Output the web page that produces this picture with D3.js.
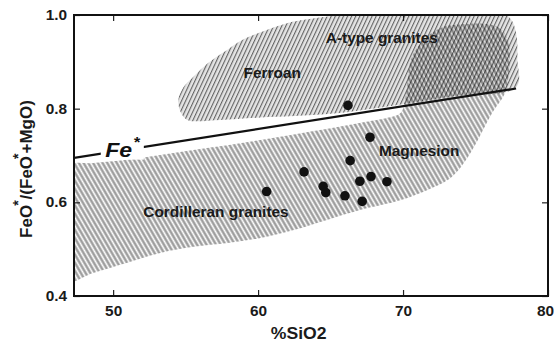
<!DOCTYPE html>
<html>
<head>
<meta charset="utf-8">
<script src="https://cdn.jsdelivr.net/npm/d3@7"></script>
<style>
  html, body { margin: 0; padding: 0; background: #fff; }
  svg { display: block; font-family: "Liberation Sans", Arial, sans-serif; }
</style>
</head>
<body>
<svg id="chart" width="554" height="344"></svg>
<script>
// Axis ticks
const xTicks = [50, 60, 70, 80];
const yTicks = [0.4, 0.6, 0.8, 1.0];

// Samples: SiO2 (wt%) and FeO*/(FeO*+MgO)
const sampleSiO2 = [66.2, 67.72, 66.35, 63.17, 60.59, 64.49, 64.67, 67.02, 67.79, 68.89, 65.99, 67.18];
const sampleFeNumber = [0.807, 0.739, 0.689, 0.665, 0.623, 0.634, 0.621, 0.645, 0.655, 0.644, 0.614, 0.602];

// Fe* boundary between ferroan and magnesian fields
const feBoundarySiO2 = [47.3, 77.8];
const feBoundaryValue = [0.695, 0.843];

// Ferroan field (A-type granites) outline
const ferroanSiO2 = [55.12, 54.64, 54.50, 54.84, 55.54, 56.57, 57.89, 59.00, 60.17, 62.46, 64.81, 66.40, 76.78, 77.47, 77.82, 77.89, 77.82, 73.32, 69.86, 65.02, 60.17, 57.4];
const ferroanValue = [0.776, 0.794, 0.819, 0.845, 0.868, 0.898, 0.926, 0.948, 0.963, 0.986, 0.997, 1.005, 1.005, 0.99, 0.958, 0.905, 0.846, 0.826, 0.809, 0.789, 0.781, 0.776];

// Magnesian field (Cordilleran granites) outline
const cordilleranSiO2 = [46.8, 48.62, 50.97, 53.25, 55.54, 57.89, 60.17, 62.46, 64.81, 67.09, 69.0, 69.86, 70.21, 70.55, 71.45, 72.63, 74.01, 75.88, 76.78, 77.27, 77.27, 76.99, 76.30, 75.88, 74.91, 74.01, 73.11, 71.73, 69.86, 67.09, 64.81, 62.46, 60.17, 57.89, 55.54, 53.25, 50.97, 48.62, 46.8];
const cordilleranValue = [0.676, 0.684, 0.691, 0.701, 0.712, 0.722, 0.733, 0.745, 0.757, 0.77, 0.781, 0.792, 0.83, 0.905, 0.948, 0.973, 0.98, 0.98, 0.969, 0.941, 0.868, 0.83, 0.798, 0.776, 0.719, 0.676, 0.648, 0.627, 0.605, 0.584, 0.563, 0.541, 0.524, 0.513, 0.505, 0.492, 0.471, 0.449, 0.432];

const W = 554, H = 344;
const margin = { left: 74, top: 15, right: 6, bottom: 48 };
const plotW = W - margin.left - margin.right;
const plotH = H - margin.top - margin.bottom;
const STRETCH = 1.1;

const svg = d3.select("#chart");
const defs = svg.append("defs");

defs.append("clipPath").attr("id", "plotClip")
  .append("rect").attr("width", plotW).attr("height", plotH);

// Hatch for the ferroan field: dark "/" lines on light grey
const pFe = defs.append("pattern").attr("id", "hatchFe")
  .attr("patternUnits", "userSpaceOnUse").attr("width", 3.7).attr("height", 10)
  .attr("patternTransform", "rotate(25)");
pFe.append("rect").attr("width", 3.7).attr("height", 10).attr("fill", "#e4e4e4");
pFe.append("line").attr("x1", 0.6).attr("x2", 0.6).attr("y1", 0).attr("y2", 10)
  .attr("stroke", "#555").attr("stroke-width", 1);

// Hatch for the magnesian field: white "\" lines on mid grey
const pMg = defs.append("pattern").attr("id", "hatchMg")
  .attr("patternUnits", "userSpaceOnUse").attr("width", 4.1).attr("height", 10)
  .attr("patternTransform", "rotate(-30)");
pMg.append("rect").attr("width", 4.1).attr("height", 10).attr("fill", "#9e9e9e");
pMg.append("line").attr("x1", 2).attr("x2", 2).attr("y1", 0).attr("y2", 10)
  .attr("stroke", "#fff").attr("stroke-width", 1.6);

const x = d3.scaleLinear().domain([47.3, 80]).range([0, plotW]);
const y = d3.scaleLinear().domain([0.4, 1.0]).range([plotH, 0]);

const g = svg.append("g").attr("transform", `translate(${margin.left},${margin.top})`);
const plot = g.append("g").attr("clip-path", "url(#plotClip)");

const area = d3.line().x(d => x(d[0])).y(d => y(d[1])).curve(d3.curveCatmullRomClosed.alpha(0.5));

const cordilleran = d3.zip(cordilleranSiO2, cordilleranValue);
const ferroan = d3.zip(ferroanSiO2, ferroanValue);

plot.append("path").attr("d", area(cordilleran)).attr("fill", "url(#hatchMg)");
plot.append("path").attr("d", area(ferroan)).attr("fill", "url(#hatchFe)")
  .style("mix-blend-mode", "multiply");

// Fe* boundary
const feLine = d3.zip(feBoundarySiO2, feBoundaryValue);
plot.append("path")
  .attr("d", d3.line().x(d => x(d[0])).y(d => y(d[1]))(feLine))
  .attr("fill", "none").attr("stroke", "#111").attr("stroke-width", 2.2);

// Fe* label with a white knock-out behind it
const feLabel = g.append("g").attr("transform", `translate(${x(49.45)},${y(0.697)}) scale(${STRETCH},1)`);
const feBg = feLabel.append("rect").attr("fill", "#fff");
const feText = feLabel.append("text")
  .attr("font-size", 21).attr("font-weight", "bold").attr("font-style", "italic").attr("fill", "#111");
feText.append("tspan").text("Fe");
feText.append("tspan").attr("font-size", 15).attr("dy", -10).attr("dx", 1).text("*");
const bb = feText.node().getBBox();
feBg.attr("x", bb.x - 4).attr("y", bb.y + 2).attr("width", bb.width + 7).attr("height", bb.height - 4);

// Field labels
function fieldLabel(text, sx, sy) {
  g.append("text")
    .attr("transform", `translate(${x(sx)},${y(sy)}) scale(${STRETCH},1)`)
    .attr("font-size", 14).attr("font-weight", "bold").attr("fill", "#1a1a1a")
    .text(text);
}
fieldLabel("A-type granites", 64.67, 0.941);
fieldLabel("Ferroan", 59.0, 0.866);
fieldLabel("Magnesion", 68.34, 0.699);
fieldLabel("Cordilleran granites", 52.08, 0.569);

// Samples
plot.selectAll("circle.sample")
  .data(d3.zip(sampleSiO2, sampleFeNumber))
  .join("circle").attr("class", "sample")
  .attr("cx", d => x(d[0])).attr("cy", d => y(d[1]))
  .attr("r", 4.8).attr("fill", "#111");

// Axes with inward ticks
const axB = g.append("g").attr("transform", `translate(0,${plotH})`)
  .call(d3.axisBottom(x).tickValues(xTicks).tickSizeInner(-6).tickSizeOuter(0).tickPadding(10).tickFormat(d3.format("d")));
const axT = g.append("g")
  .call(d3.axisTop(x).tickValues(xTicks).tickSizeInner(-6).tickSizeOuter(0).tickFormat(""));
const axL = g.append("g")
  .call(d3.axisLeft(y).tickValues(yTicks).tickSizeInner(-6).tickSizeOuter(0).tickPadding(6.3).tickFormat(d3.format(".1f")));
const axR = g.append("g").attr("transform", `translate(${plotW},0)`)
  .call(d3.axisRight(y).tickValues(yTicks).tickSizeInner(-6).tickSizeOuter(0).tickFormat(""));

[axB, axT, axL, axR].forEach(a => {
  a.select(".domain").remove();
  a.selectAll(".tick line").attr("stroke", "#222").attr("stroke-width", 1.2);
  a.selectAll(".tick text")
    .attr("font-family", "Liberation Sans, Arial, sans-serif")
    .attr("font-size", 14).attr("font-weight", "bold").attr("fill", "#1a1a1a")
    .attr("transform", `scale(${STRETCH},1)`);
});
// last x label sits against the right edge of the page
axB.selectAll(".tick text").filter(d => d === xTicks[xTicks.length - 1])
  .attr("transform", `translate(-3,0) scale(${STRETCH},1)`);

// Frame
g.append("rect").attr("width", plotW).attr("height", plotH)
  .attr("fill", "none").attr("stroke", "#111").attr("stroke-width", 2);

// Axis titles
g.append("text")
  .attr("transform", `translate(${x(62.8)},${plotH + 43}) scale(${STRETCH},1)`)
  .attr("text-anchor", "middle").attr("font-size", 16).attr("font-weight", "bold").attr("fill", "#1a1a1a")
  .text("%SiO2");

const yTitle = svg.append("text")
  .attr("transform", `translate(32,169) rotate(-90)`)
  .attr("text-anchor", "middle").attr("font-size", 17).attr("font-weight", "bold").attr("fill", "#1a1a1a");
yTitle.append("tspan").text("FeO");
yTitle.append("tspan").attr("font-size", 14).attr("dy", -9).attr("dx", -1).text("*");
yTitle.append("tspan").attr("dy", 9).attr("dx", 1).text("/(FeO");
yTitle.append("tspan").attr("font-size", 14).attr("dy", -9).attr("dx", -3).text("*");
yTitle.append("tspan").attr("dy", 9).attr("dx", 0).text("+MgO)");
</script>
</body>
</html>
